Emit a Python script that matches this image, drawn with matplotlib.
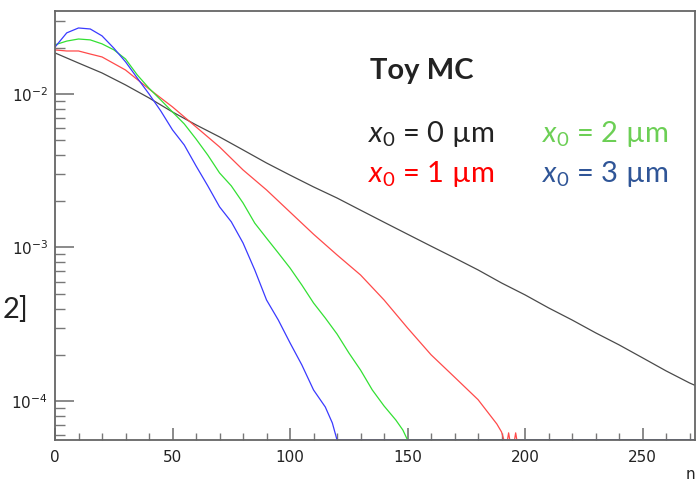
import numpy as np
import matplotlib
matplotlib.use("Agg")
from matplotlib import pyplot as plt
from matplotlib.ticker import FixedLocator, NullFormatter

# values (bin content vs n)
n_black = [0, 10, 20, 30, 40, 50, 60, 70, 80, 90, 100, 110, 120, 130, 140,
           150, 160, 170, 180, 190, 200, 210, 220, 230, 240, 250, 260, 270, 272]
v_black = [0.0185, 0.0159, 0.0137, 0.01145, 0.00942, 0.00763, 0.00629, 0.00525,
           0.00432, 0.00355, 0.00296, 0.00248, 0.00210, 0.00175, 0.00146,
           0.00122, 0.00102, 0.000855, 0.000714, 0.000587, 0.000491, 0.000404,
           0.000337, 0.000278, 0.000232, 0.000191, 0.000157, 0.000131, 0.000127]

n_red = [0, 5, 10, 15, 20, 30, 40, 50, 60, 70, 80, 90, 100, 110, 120, 130,
         140, 150, 160, 170, 180, 188, 190, 191, 192.5, 193, 193.5, 195.5, 196, 196.5, 272]
v_red = [0.01935, 0.01905, 0.01905, 0.0182, 0.01742, 0.01432, 0.01078, 0.00823,
         0.00610, 0.00452, 0.00320, 0.00237, 0.00170, 0.00122, 0.000894,
         0.000662, 0.000455, 0.000299, 0.000200, 0.000143, 0.000102,
         0.0000708, 0.0000628, 0, 0, 0.000062, 0, 0, 0.000062, 0, 0]

n_green = [0, 5, 10, 15, 20, 25, 30, 35, 40, 45, 50, 55, 60, 65, 70, 75, 80,
           85, 90, 95, 100, 105, 110, 115, 120, 125, 130, 135, 140, 145, 148, 150, 272]
v_green = [0.0209, 0.0221, 0.0228, 0.0225, 0.0212, 0.0194, 0.0169, 0.0133,
           0.0109, 0.00914, 0.00763, 0.00638, 0.00509, 0.00400, 0.00306,
           0.00252, 0.00195, 0.00144, 0.00115, 0.000921, 0.000735, 0.000570,
           0.000435, 0.000347, 0.000273, 0.000206, 0.000159, 0.000118,
           0.0000928, 0.0000752, 0.0000647, 0, 0]

n_blue = [0, 5, 10, 15, 20, 25, 30, 35, 40, 45, 50, 55, 60, 65, 70, 75, 80,
          85, 90, 95, 100, 105, 110, 115, 118, 120, 272]
v_blue = [0.0202, 0.0250, 0.0269, 0.0265, 0.0239, 0.0199, 0.0162, 0.0127,
          0.0100, 0.00775, 0.00583, 0.00465, 0.00340, 0.00252, 0.00184,
          0.00147, 0.00107, 0.000713, 0.000455, 0.000337, 0.000239,
          0.000172, 0.000118, 0.0000914, 0.0000719, 0, 0]

legend_labels = ["0", "1", "2", "3"]
legend_colors = ["#222222", "#ff0000", "#6ccf55", "#2f5597"]

YMIN, YMAX = 5.57e-5, 0.0347
W, H = 697, 483

plt.rcParams["mathtext.fontset"] = "custom"
plt.rcParams["mathtext.rm"] = "Lato"
plt.rcParams["mathtext.it"] = "Lato:italic"

fig = plt.figure(figsize=(W / 100, H / 100), dpi=100)
ax = fig.add_axes([55 / W, 1 - 440 / H, 640 / W, 429 / H])

curves = [(n_black, v_black, "#4a4a4a"), (n_red, v_red, "#ff4a4a"),
          (n_green, v_green, "#33e033"), (n_blue, v_blue, "#3a3aff")]
for nn, vv, c in curves:
    vv = np.array(vv, dtype=float)
    vv[vv <= 0] = YMIN  # empty bins sit on the bottom edge
    ax.plot(nn, vv, color=c, lw=0.9)

ax.set_yscale("log")
ax.set_xlim(0, 272.3)
ax.set_ylim(YMIN, YMAX)

ax.set_xticks([0, 50, 100, 150, 200, 250])
ax.set_xticks(np.arange(0, 273, 10), minor=True)
ax.set_xticklabels(["0", "50", "100", "150", "200", "250"])
ax.yaxis.set_major_locator(FixedLocator([1e-4, 1e-3, 1e-2]))
ax.yaxis.set_minor_locator(FixedLocator(
    [k * 10.0 ** e for e in (-5, -4, -3, -2) for k in range(2, 10)]))
ax.yaxis.set_minor_formatter(NullFormatter())
ax.set_yticklabels([r"$10^{-4}$", r"$10^{-3}$", r"$10^{-2}$"])

ax.tick_params(axis="both", which="both", direction="in", colors="#777777",
               labelcolor="#222222", top=False, right=False)
ax.tick_params(axis="x", which="major", length=9, width=1.2, pad=7, labelsize=11)
ax.tick_params(axis="x", which="minor", length=5, width=1.0)
ax.tick_params(axis="y", which="major", length=14, width=1.2, pad=5, labelsize=11)
ax.tick_params(axis="y", which="minor", length=7, width=1.0)
for lab in ax.get_xticklabels() + ax.get_yticklabels():
    lab.set_math_fontfamily("dejavusans")

for s in ax.spines.values():
    s.set_color("#666666")
    s.set_linewidth(1.3)

def px(x, y):
    return x / W, 1 - y / H

fig.text(*px(370, 79), "Toy MC", fontsize=21, fontweight="bold",
         family="Lato", color="#222222", va="baseline")
pos = [(368, 142), (368, 182), (542, 142), (542, 182)]
for (x, y), lab, c in zip(pos, legend_labels, legend_colors):
    fig.text(*px(x, y), r"$x_0$ = " + lab + " µm", fontsize=21, family="Lato",
             color=c, va="baseline")

fig.text(*px(3, 318), "2]", fontsize=21, family="Lato", color="#222222",
         ha="left", va="baseline")
fig.text(*px(686, 479), "n", fontsize=11, color="#222222", va="baseline")

fig.savefig("out.png", dpi=100)
